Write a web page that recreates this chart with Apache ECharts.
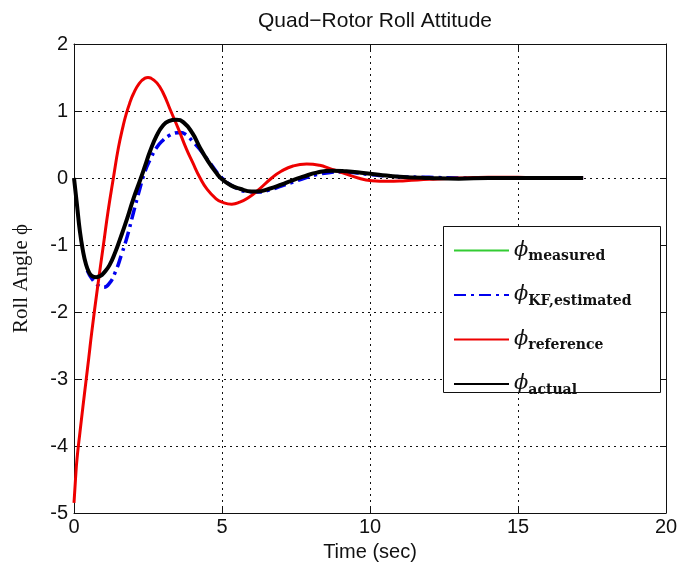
<!DOCTYPE html>
<html>
<head>
<meta charset="utf-8">
<script src="https://cdn.jsdelivr.net/npm/echarts@6/dist/echarts.min.js"></script>
<style>
html,body{margin:0;padding:0;background:#fff;}
#chart{width:683px;height:571px;}
</style>
</head>
<body>
<div id="chart"></div>
<script>
// ---- data ----
var xTicks = [0, 5, 10, 15, 20];
var yTicks = [-5, -4, -3, -2, -1, 0, 1, 2];

var measuredT = [];
var measuredV = [];

var kfT = [0.45,0.6,0.8,1.0,1.2,1.4,1.6,1.8,2.0,2.2,2.4,2.6,2.8,3.0,3.2,3.4,3.6,3.8,4.0,4.3,4.6,5.0,5.4,5.8,6.2,6.6,7.0,7.4,7.8,8.2,8.6,9.0,9.5,10,11,12,13,14,15,16,17.2];
var kfV = [-1.38,-1.5,-1.6,-1.63,-1.57,-1.4,-1.15,-0.87,-0.53,-0.2,0.1,0.3,0.46,0.56,0.63,0.67,0.68,0.64,0.55,0.4,0.22,0,-0.13,-0.2,-0.21,-0.18,-0.12,-0.06,0,0.05,0.08,0.09,0.08,0.05,0.02,0.01,0,0,0,0,0];

var refT = [0,0.05,0.1,0.2,0.3,0.4,0.5,0.6,0.8,1.0,1.15,1.33,1.5,1.65,1.76,1.9,2.0,2.2,2.4,2.5,2.6,2.8,3.0,3.27,3.52,3.8,4.0,4.26,4.5,4.8,5.0,5.33,5.6,5.9,6.2,6.68,7.0,7.4,7.86,8.3,8.65,9.0,9.6,10.06,10.6,11.2,12,13,14,15,16,17.2];
var refV = [-4.85,-4.5,-4.2,-3.8,-3.42,-3.05,-2.68,-2.3,-1.62,-0.98,-0.5,0,0.45,0.76,0.95,1.14,1.25,1.41,1.49,1.5,1.49,1.42,1.28,1.0,0.74,0.43,0.24,0,-0.17,-0.31,-0.36,-0.39,-0.36,-0.29,-0.19,0,0.1,0.18,0.21,0.19,0.14,0.09,0.0,-0.04,-0.05,-0.04,-0.02,0,0.01,0.01,0,0];

var actT = [0,0.1,0.2,0.3,0.4,0.5,0.6,0.75,0.9,1.0,1.2,1.4,1.55,1.8,2.0,2.26,2.4,2.57,2.8,3.0,3.2,3.45,3.7,4.0,4.26,4.5,4.8,5.0,5.3,5.6,6.0,6.2,6.6,7.0,7.4,7.74,8.2,8.7,9.2,9.7,10.3,11,12,13,14,15,16,17.2];
var actV = [0,-0.4,-0.8,-1.08,-1.28,-1.4,-1.46,-1.48,-1.46,-1.42,-1.3,-1.1,-0.92,-0.6,-0.32,0,0.18,0.4,0.64,0.78,0.85,0.87,0.83,0.67,0.45,0.27,0.08,-0.02,-0.11,-0.16,-0.2,-0.2,-0.16,-0.1,-0.03,0.02,0.08,0.11,0.1,0.08,0.05,0.02,0,-0.01,0,0,0,0];

var seriesNames = ['measured', 'KF,estimated', 'reference', 'actual'];

function pairs(t, v) { return t.map(function (x, i) { return [x, v[i]]; }); }

var chart = echarts.init(document.getElementById('chart'), null, {renderer: 'canvas'});
var sans = 'Liberation Sans, Arial, Helvetica, sans-serif';
var PHI = '\u03D5';

var option = {
  animation: false,
  backgroundColor: '#fff',
  title: {
    text: 'Quad\u2212Rotor Roll Attitude',
    left: 370, top: 6, textAlign: 'center',
    textStyle: {fontFamily: sans, fontSize: 21, fontWeight: 'normal', color: '#111'}
  },
  grid: {left: 74, right: 17, top: 44, bottom: 58, containLabel: false},
  xAxis: [{
    type: 'value', min: xTicks[0], max: xTicks[xTicks.length - 1], interval: 5,
    name: 'Time (sec)', nameLocation: 'middle', nameGap: 29,
    nameTextStyle: {fontFamily: sans, fontSize: 20, color: '#111'},
    axisLine: {show: true, onZero: false, lineStyle: {color: '#111', width: 1}},
    axisTick: {show: true, inside: true, length: 6, lineStyle: {color: '#111'}},
    axisLabel: {fontFamily: sans, fontSize: 20, color: '#111', margin: 4},
    splitLine: {show: true, lineStyle: {color: '#111', width: 1, type: [2, 4]}}
  }, {
    type: 'value', position: 'top', min: xTicks[0], max: xTicks[xTicks.length - 1], interval: 5,
    axisLine: {show: true, onZero: false, lineStyle: {color: '#111', width: 1}},
    axisTick: {show: true, inside: true, length: 6, lineStyle: {color: '#111'}},
    axisLabel: {show: false}, splitLine: {show: false}
  }],
  yAxis: [{
    type: 'value', min: yTicks[0], max: yTicks[yTicks.length - 1], interval: 1,
    name: 'Roll Angle ' + PHI, nameLocation: 'middle', nameGap: 42, nameRotate: 90,
    nameTextStyle: {fontFamily: 'Liberation Serif, Times New Roman, serif', fontSize: 21, color: '#111'},
    axisLine: {show: true, onZero: false, lineStyle: {color: '#111', width: 1}},
    axisTick: {show: true, inside: true, length: 6, lineStyle: {color: '#111'}},
    axisLabel: {fontFamily: sans, fontSize: 20, color: '#111', margin: 6},
    splitLine: {show: true, lineStyle: {color: '#111', width: 1, type: [2, 4]}}
  }, {
    type: 'value', position: 'right', min: yTicks[0], max: yTicks[yTicks.length - 1], interval: 1,
    axisLine: {show: true, onZero: false, lineStyle: {color: '#111', width: 1}},
    axisTick: {show: true, inside: true, length: 6, lineStyle: {color: '#111'}},
    axisLabel: {show: false}, splitLine: {show: false}
  }],
  graphic: [{
    type: 'rect', z: 50,
    shape: {x: 443.5, y: 226.5, width: 217, height: 166},
    style: {fill: '#fff', stroke: '#111', lineWidth: 1}
  }],
  legend: {
    z: 60, orient: 'vertical', left: 453, top: 240, padding: 0,
    itemWidth: 55, itemHeight: 20, itemGap: 21,
    itemStyle: {opacity: 0},
    data: seriesNames,
    formatter: function (name) { return '{phi|' + PHI + '}{sub|' + name + '}'; },
    textStyle: {
      rich: {
        phi: {fontFamily: 'DejaVu Serif, serif', fontStyle: 'italic', fontSize: 21, color: '#111', verticalAlign: 'middle'},
        sub: {fontFamily: 'DejaVu Serif, serif', fontWeight: 'bold', fontSize: 14, color: '#111', verticalAlign: 'bottom', padding: [12, 0, 0, 0]}
      }
    }
  },
  series: [{
    name: seriesNames[0], type: 'line', showSymbol: false, symbol: 'none',
    data: pairs(measuredT, measuredV),
    lineStyle: {color: '#33cc33', width: 1}, itemStyle: {color: '#33cc33'}
  }, {
    name: seriesNames[1], type: 'line', showSymbol: false, symbol: 'none', smooth: 0.5,
    data: pairs(kfT, kfV),
    lineStyle: {color: '#0000ee', width: 3.5, type: [12, 5, 3, 5]}, itemStyle: {color: '#0000ee'}
  }, {
    name: seriesNames[2], type: 'line', showSymbol: false, symbol: 'none', smooth: 0.5,
    data: pairs(refT, refV),
    lineStyle: {color: '#ee0000', width: 3}, itemStyle: {color: '#ee0000'}
  }, {
    name: seriesNames[3], type: 'line', showSymbol: false, symbol: 'none', smooth: 0.5,
    data: pairs(actT, actV),
    lineStyle: {color: '#000', width: 4}, itemStyle: {color: '#000'}
  }]
};
chart.setOption(option);
</script>
</body>
</html>
